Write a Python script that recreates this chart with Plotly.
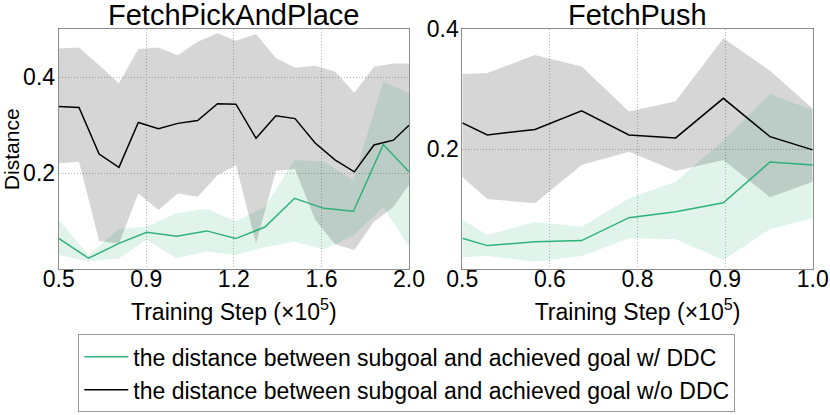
import plotly.graph_objects as go

# ---------------- data ----------------
# FetchPickAndPlace (left panel), x in units of 1e5 training steps
pp_x_wo = [0.5, 0.587, 0.673, 0.758, 0.841, 0.927, 1.01, 1.095, 1.18, 1.259,
           1.345, 1.43, 1.512, 1.598, 1.683, 1.766, 1.85, 1.933, 2.0]
pp_wo_mean = [0.339, 0.337, 0.240, 0.2125, 0.306, 0.293, 0.304, 0.31, 0.345, 0.344,
              0.273, 0.32, 0.314, 0.263, 0.228, 0.203, 0.259, 0.269, 0.30]
pp_wo_upper = [0.46, 0.462, 0.425, 0.3875, 0.459, 0.462, 0.446, 0.474, 0.492, 0.476,
               0.49, 0.44, 0.42, 0.424, 0.412, 0.368, 0.422, 0.429, 0.429]
pp_wo_lower = [0.221, 0.224, 0.059, 0.054, 0.158, 0.1235, 0.158, 0.151, 0.196, 0.217,
               0.054, 0.205, 0.209, 0.103, 0.052, 0.04, 0.099, 0.13, 0.176]

pp_x_w = [0.5, 0.628, 0.758, 0.877, 1.005, 1.134, 1.258, 1.383, 1.51, 1.636, 1.762, 1.89, 2.0]
pp_w_mean = [0.0646, 0.023, 0.054, 0.077, 0.069, 0.080, 0.064, 0.088, 0.148, 0.127, 0.121, 0.260, 0.203]
pp_w_upper = [0.103, 0.03, 0.084, 0.089, 0.117, 0.126, 0.100, 0.13, 0.2275, 0.224, 0.186, 0.391, 0.367]
pp_w_lower = [0.03, 0.016, 0.023, 0.061, 0.023, 0.037, 0.03, 0.046, 0.0575, 0.042, 0.07, 0.13, 0.047]

# FetchPush (right panel)
pu_x = [0.5, 0.5357, 0.6037, 0.6703, 0.7378, 0.8045, 0.8725, 0.9391, 1.0]
pu_wo_mean = [0.244, 0.224, 0.233, 0.264, 0.224, 0.219, 0.285, 0.221, 0.199]
pu_wo_upper = [0.3255, 0.327, 0.357, 0.338, 0.263, 0.28, 0.385, 0.331, 0.268]
pu_wo_lower = [0.154, 0.117, 0.11, 0.174, 0.196, 0.164, 0.182, 0.12, 0.146]
pu_w_mean = [0.0517, 0.0395, 0.046, 0.0478, 0.086, 0.096, 0.111, 0.179, 0.174]
pu_w_upper = [0.083, 0.057, 0.079, 0.071, 0.118, 0.146, 0.215, 0.292, 0.2655]
pu_w_lower = [0.02, 0.022, 0.0127, 0.022, 0.0517, 0.05, 0.0155, 0.0667, 0.085]

pp_xticks = [0.5, 0.875, 1.25, 1.625, 2.0]
pp_xticktext = ["0.5", "0.9", "1.2", "1.6", "2.0"]
pu_xticks = [0.5, 0.625, 0.75, 0.875, 1.0]
pu_xticktext = ["0.5", "0.6", "0.8", "0.9", "1.0"]
yticks = [0.2, 0.4]
yticktext = ["0.2", "0.4"]

titles = ["FetchPickAndPlace", "FetchPush"]
label_w = "the distance between subgoal and achieved goal w/ DDC"
label_wo = "the distance between subgoal and achieved goal w/o DDC"

GREEN = "#2eb27a"
GREEN_FILL = "rgba(46,178,122,0.14)"
GRAY_FILL = "rgba(0,0,0,0.16)"
FONT = "Liberation Sans, Arial, sans-serif"

fig = go.Figure()


def band(x, lo, hi, color, xa, ya):
    fig.add_trace(go.Scatter(
        x=list(x) + list(x)[::-1], y=list(hi) + list(lo)[::-1],
        fill="toself", fillcolor=color, line=dict(width=0),
        mode="lines", hoverinfo="skip", showlegend=False, xaxis=xa, yaxis=ya))


# left panel
band(pp_x_w, pp_w_lower, pp_w_upper, GREEN_FILL, "x", "y")
band(pp_x_wo, pp_wo_lower, pp_wo_upper, GRAY_FILL, "x", "y")
fig.add_trace(go.Scatter(x=pp_x_wo, y=pp_wo_mean, mode="lines",
                         line=dict(color="black", width=1.5), name=label_wo,
                         showlegend=True, legendrank=2,
                         xaxis="x", yaxis="y"))
fig.add_trace(go.Scatter(x=pp_x_w, y=pp_w_mean, mode="lines",
                         line=dict(color=GREEN, width=1.5), name=label_w,
                         showlegend=True, legendrank=1,
                         xaxis="x", yaxis="y"))
# right panel
band(pu_x, pu_w_lower, pu_w_upper, GREEN_FILL, "x2", "y2")
band(pu_x, pu_wo_lower, pu_wo_upper, GRAY_FILL, "x2", "y2")
fig.add_trace(go.Scatter(x=pu_x, y=pu_wo_mean, mode="lines",
                         line=dict(color="black", width=1.5), showlegend=False,
                         xaxis="x2", yaxis="y2"))
fig.add_trace(go.Scatter(x=pu_x, y=pu_w_mean, mode="lines",
                         line=dict(color=GREEN, width=1.5), showlegend=False,
                         xaxis="x2", yaxis="y2"))

W, H = 830, 415
common_ax = dict(showline=True, mirror=True, linecolor="#8c8c8c", linewidth=1,
                 showgrid=True, gridcolor="#b4b4b4", griddash="1px,2px", gridwidth=1,
                 zeroline=False, ticks="", automargin=False,
                 tickfont=dict(size=23, color="black", family=FONT))

xtitle = dict(text="Training Step (×10<sup>5</sup>)", font=dict(size=23, color="black", family=FONT),
              standoff=12)

fig.update_layout(
    width=W, height=H, margin=dict(l=0, r=0, t=0, b=0, autoexpand=False),
    paper_bgcolor="white", plot_bgcolor="white",
    font=dict(family=FONT, color="black"),
    xaxis=dict(domain=[58.7 / W, 409 / W], range=[0.5, 2.0], tickmode="array",
               tickvals=pp_xticks, ticktext=pp_xticktext, title=xtitle, anchor="y",
               ticklabelstandoff=-11, **common_ax),
    yaxis=dict(domain=[1 - 269.3 / H, 1 - 29.3 / H], range=[0, 0.5], tickmode="array",
               tickvals=yticks, ticktext=yticktext, anchor="x", ticklabelstandoff=-2,
               title=dict(text="Distance", font=dict(size=21, color="black", family=FONT), standoff=4),
               **common_ax),
    xaxis2=dict(domain=[462.3 / W, 812.7 / W], range=[0.5, 1.0], tickmode="array",
                tickvals=pu_xticks, ticktext=pu_xticktext, title=xtitle, anchor="y2",
                ticklabelstandoff=-11, **common_ax),
    yaxis2=dict(domain=[1 - 269.3 / H, 1 - 29.3 / H], range=[0, 0.4], tickmode="array",
                tickvals=yticks, ticktext=yticktext, anchor="x2", ticklabelstandoff=-2,
                **common_ax),
    legend=dict(x=78.3 / W, y=1 - 412.3 / H, xanchor="left", yanchor="bottom",
                bordercolor="#999999", borderwidth=1, bgcolor="white",
                font=dict(size=23, color="black", family=FONT),
                itemwidth=44, traceorder="normal"),
    annotations=[
        dict(text=titles[0], x=(58.7 + 409) / 2 / W, y=1 - 15 / H, xref="paper", yref="paper",
             showarrow=False, xanchor="center", yanchor="middle",
             font=dict(size=29, color="black", family=FONT)),
        dict(text=titles[1], x=(462.3 + 812.7) / 2 / W, y=1 - 15 / H, xref="paper", yref="paper",
             showarrow=False, xanchor="center", yanchor="middle",
             font=dict(size=29, color="black", family=FONT)),
    ],
)

fig.write_html("out.html", config={"responsive": False, "displayModeBar": False},
               post_script="document.body.style.margin='0';document.body.style.padding='0';")
